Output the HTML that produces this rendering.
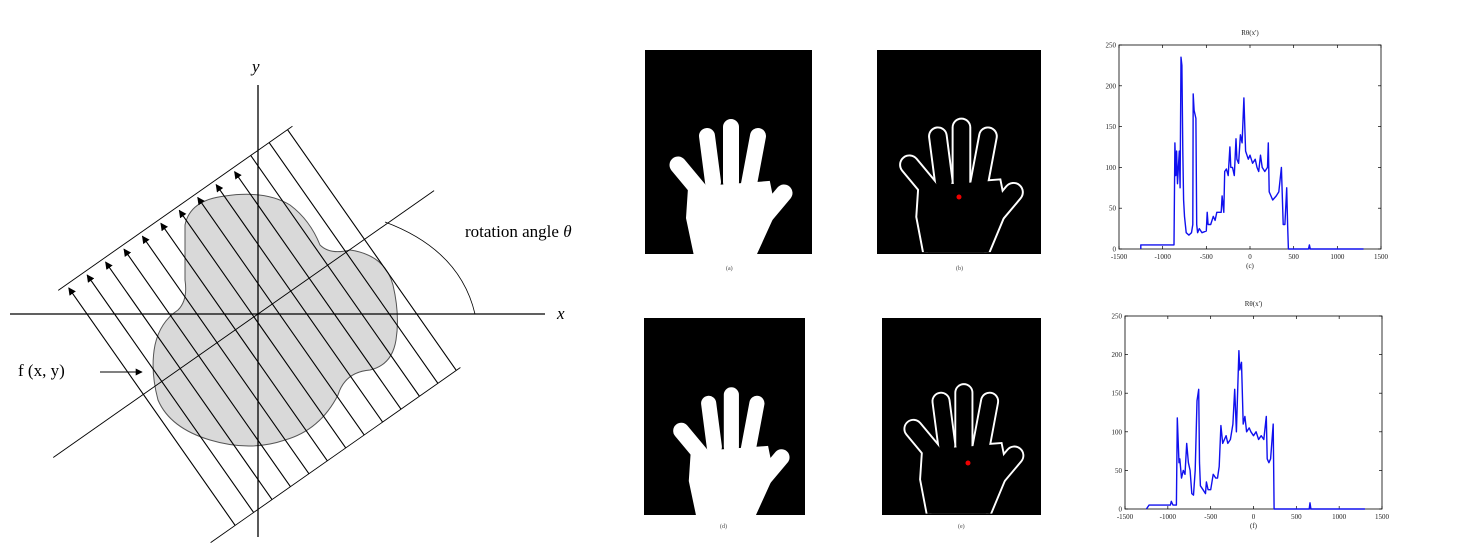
<!DOCTYPE html>
<html><head><meta charset="utf-8"><style>
html,body{margin:0;padding:0;background:#fff;width:1464px;height:550px;overflow:hidden}
svg{position:absolute;left:0;top:0}
text{font-family:"Liberation Serif",serif}
</style></head><body>
<svg id="s" width="1464" height="550">
<defs>
<marker id="ah" viewBox="0 0 10 10" refX="9" refY="5" markerWidth="7" markerHeight="7" orient="auto"><path d="M0,0 L10,5 L0,10 z" fill="#000"/></marker>
<symbol id="handFill" viewBox="0 0 167 204">
<g stroke="#fff" stroke-linecap="round" fill="#fff">
<line x1="58" y1="145" x2="33" y2="115" stroke-width="17"/>
<line x1="68" y1="132" x2="62" y2="86" stroke-width="16"/>
<line x1="86" y1="132" x2="86" y2="77" stroke-width="16"/>
<line x1="104" y1="134" x2="113" y2="86" stroke-width="16"/>
<line x1="118" y1="168" x2="139" y2="143" stroke-width="17"/>
<polygon points="44,138 124,132 130,162 110,206 50,206 42,168" stroke-width="2"/>
</g></symbol>
<symbol id="handLine" viewBox="0 0 167 204">
<g stroke="#fff" stroke-linecap="round" fill="#fff">
<line x1="58" y1="145" x2="33" y2="115" stroke-width="21"/>
<line x1="68" y1="132" x2="62" y2="86" stroke-width="20"/>
<line x1="86" y1="132" x2="86" y2="77" stroke-width="20"/>
<line x1="104" y1="134" x2="113" y2="86" stroke-width="20"/>
<line x1="118" y1="168" x2="139" y2="143" stroke-width="21"/>
<polygon points="44,138 124,132 130,162 110,210 50,210 42,168" stroke-width="6"/>
</g>
<g stroke="#000" stroke-linecap="round" fill="#000">
<line x1="58" y1="145" x2="33" y2="115" stroke-width="17"/>
<line x1="68" y1="132" x2="62" y2="86" stroke-width="16"/>
<line x1="86" y1="132" x2="86" y2="77" stroke-width="16"/>
<line x1="104" y1="134" x2="113" y2="86" stroke-width="16"/>
<line x1="118" y1="168" x2="139" y2="143" stroke-width="17"/>
<polygon points="44,138 124,132 130,162 110,210 50,210 42,168" stroke-width="2"/>
</g></symbol>
</defs>

<g id="diagram">
<path fill="#d9d9d9" stroke="#555" stroke-width="1"
 d="M185,225 Q190,200 225,196 Q265,190 290,205 Q310,220 320,245 Q330,255 350,250 Q385,255 393,285 Q400,315 396,340 Q392,365 370,370 Q345,372 338,395 Q320,430 285,440 Q250,452 210,440 Q170,428 158,400 Q150,370 155,345 Q160,322 178,310 Q188,300 185,280 Z"/>
<line x1="10" y1="314" x2="545" y2="314" stroke="#000" stroke-width="1.3"/>
<line x1="258" y1="85" x2="258" y2="537" stroke="#000" stroke-width="1.3"/>
<text x="557" y="319" font-size="17" font-style="italic">x</text>
<text x="252" y="72" font-size="17" font-style="italic">y</text>
<text x="465" y="237" font-size="17">rotation angle <tspan font-style="italic">θ</tspan></text>
<text x="18" y="376" font-size="17">f (x, y)</text>
<line x1="100" y1="372" x2="142" y2="372" stroke="#000" stroke-width="1" marker-end="url(#ah)"/>
<path d="M385,222 Q460,250 475,314" fill="none" stroke="#000" stroke-width="0.8"/>
<g id="rays"></g>
</g>

<g>
<rect x="645" y="50" width="167" height="204" fill="#000"/>
<use href="#handFill" x="645" y="50" width="167" height="204"/>
<text x="726" y="270" font-size="6" fill="#444">(a)</text>
</g>
<g>
<rect x="877" y="50" width="164" height="204" fill="#000"/>
<svg x="877" y="50" width="164" height="204" viewBox="0 0 167 204" overflow="hidden"><use href="#handLine"/></svg>
<circle cx="959" cy="197" r="2.5" fill="#e00"/>
<text x="956" y="270" font-size="6" fill="#444">(b)</text>
</g>
<g>
<rect x="644" y="318" width="161" height="197" fill="#000"/>
<use href="#handFill" x="650" y="322" width="158" height="193"/>
<text x="720" y="528" font-size="6" fill="#444">(d)</text>
</g>
<g>
<rect x="882" y="318" width="159" height="197" fill="#000"/>
<svg x="882" y="318" width="159" height="197" viewBox="0 0 167 204" overflow="hidden"><use href="#handLine"/></svg>
<circle cx="968" cy="463" r="2.5" fill="#e00"/>
<text x="958" y="528" font-size="6" fill="#444">(e)</text>
</g>
<g id="charts"></g>
</svg>
<script>
// Chart 1 data (c)
const xs1=[-1250,-1250,-870,-860,-850,-840,-830,-810,-800,-790,-780,-770,-760,-750,-730,-700,-670,-655,-650,-640,-620,-610,-600,-580,-550,-500,-490,-480,-450,-420,-400,-380,-330,-320,-300,-290,-270,-250,-230,-220,-200,-180,-160,-150,-130,-110,-90,-70,-60,-50,-20,0,30,60,80,100,120,140,170,200,210,220,240,260,300,330,360,380,400,420,430,440,670,680,690,1300];
const ys1=[0,5,5,130,90,120,80,120,75,235,225,120,60,40,20,17,20,30,190,170,160,30,20,25,20,22,45,30,30,40,35,45,45,65,45,95,98,90,125,100,100,90,135,110,105,140,130,185,150,120,110,115,105,110,100,95,115,100,95,100,130,70,65,60,65,70,100,30,30,75,30,0,0,5,0,0];
// Chart 2 data (f)
const xs2=[-1250,-1220,-970,-960,-940,-900,-890,-870,-860,-840,-820,-800,-780,-760,-740,-720,-700,-680,-660,-640,-630,-620,-590,-560,-550,-530,-500,-470,-440,-420,-400,-380,-360,-320,-300,-270,-240,-220,-200,-170,-160,-140,-120,-100,-80,-50,-30,0,30,60,90,120,150,160,180,200,230,240,650,660,670,1300];
const ys2=[0,5,5,10,5,5,118,60,65,40,50,45,85,60,50,20,18,50,140,155,60,30,25,20,35,25,25,45,40,40,55,108,85,95,85,90,110,155,100,205,180,190,110,120,100,105,100,95,100,90,95,90,120,65,60,65,110,0,0,8,0,0];
const xTicks=[-1500,-1000,-500,0,500,1000,1500];
const yTicks=[0,50,100,150,200,250];
const NS='http://www.w3.org/2000/svg';
function mk(tag,attrs,parent){const e=document.createElementNS(NS,tag);for(const k in attrs)e.setAttribute(k,attrs[k]);parent.appendChild(e);return e;}

const rays=document.getElementById('rays');
const ox=258,oy=314,ux=0.819,uy=-0.574,vx=-0.574,vy=-0.819;
function P(u,v){return [ox+u*ux+v*vx,oy+u*uy+v*vy];}
let a=P(-250,0),b=P(215,0);
let l=mk('line',{x1:a[0],y1:a[1],x2:b[0],y2:b[1],stroke:'#000','stroke-width':0.9},rays);


a=P(-150,134);b=P(136,134);
l=mk('line',{x1:a[0],y1:a[1],x2:b[0],y2:b[1],stroke:'#000','stroke-width':0.9},rays);


a=P(-170,-160);b=P(135,-160);
l=mk('line',{x1:a[0],y1:a[1],x2:b[0],y2:b[1],stroke:'#000','stroke-width':0.9},rays);


for(let i=0;i<13;i++){const u=-140+i*22.5;const s=P(u,-160),e=P(u,i<10?130:134);
 const r=mk('line',{x1:s[0],y1:s[1],x2:e[0],y2:e[1],stroke:'#000','stroke-width':1.1},rays);
 if(i<10)r.setAttribute('marker-end','url(#ah)');
 
 }

function chart(L,R,T,B,xs,ys,cap,name){
 const g=mk('g',{},document.getElementById('charts'));
 
 
 const X=v=>L+(v+1500)/3000*(R-L),Y=v=>B-v/250*(B-T);
 mk('rect',{x:L,y:T,width:R-L,height:B-T,fill:'#fff',stroke:'#000','stroke-width':0.8},g);
 xTicks.forEach(t=>{const x=X(t);mk('line',{x1:x,y1:B,x2:x,y2:B-3,stroke:'#000','stroke-width':0.7},g);mk('line',{x1:x,y1:T,x2:x,y2:T+3,stroke:'#000','stroke-width':0.7},g);
  const tx=mk('text',{x:x,y:B+10,'font-size':7,'text-anchor':'middle',fill:'#222'},g);tx.textContent=t;
  
  });
 yTicks.forEach(t=>{const y=Y(t);mk('line',{x1:L,y1:y,x2:L+3,y2:y,stroke:'#000','stroke-width':0.7},g);mk('line',{x1:R,y1:y,x2:R-3,y2:y,stroke:'#000','stroke-width':0.7},g);
  const tx=mk('text',{x:L-3,y:y+2.5,'font-size':7,'text-anchor':'end',fill:'#222'},g);tx.textContent=t;
  
  });
 const pts=xs.map((x,i)=>X(x).toFixed(1)+','+Y(ys[i]).toFixed(1)).join(' ');
 const pl=mk('polyline',{points:pts,fill:'none',stroke:'#1010ee','stroke-width':1.4,'stroke-linejoin':'round'},g);
 
 
 const t=mk('text',{x:(L+R)/2,y:T-10,'font-size':7,'text-anchor':'middle',fill:'#222'},g);t.textContent="Rθ(x')";
 
 
 const c=mk('text',{x:X(0),y:B+19,'font-size':7,'text-anchor':'middle',fill:'#222'},g);c.textContent=cap;
 
 
}
chart(1119,1381,45,249,xs1,ys1,'(c)','projection-chart-c');
chart(1125,1382,316,509,xs2,ys2,'(f)','projection-chart-f');
</script>
</body></html>
